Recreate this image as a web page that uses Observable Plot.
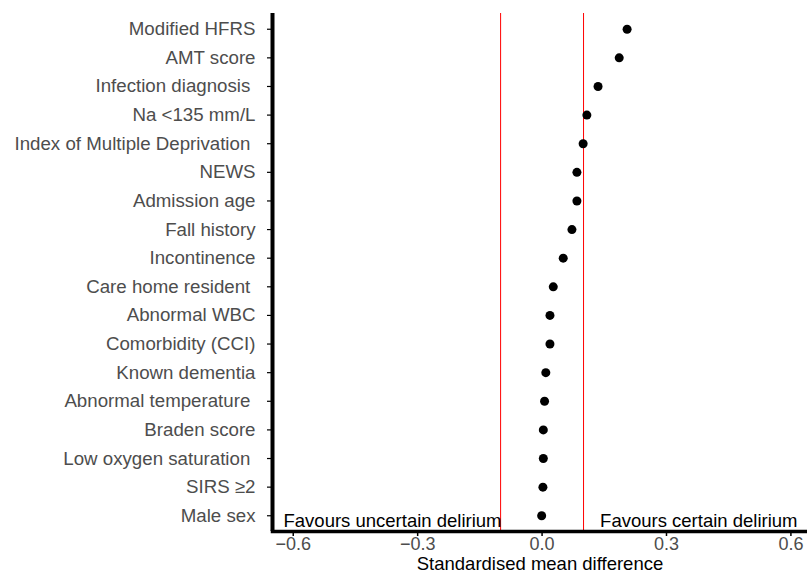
<!DOCTYPE html>
<html><head><meta charset="utf-8">
<script src="https://cdn.jsdelivr.net/npm/d3@7"></script>
<script src="https://cdn.jsdelivr.net/npm/@observablehq/plot@0.6"></script>
<style>body{margin:0;background:#fff;font-family:"Liberation Sans",Arial,sans-serif;}</style>
</head><body><div id="chart"></div>
<script>
const categories = ["Modified HFRS","AMT score","Infection diagnosis","Na <135 mm/L","Index of Multiple Deprivation","NEWS","Admission age","Fall history","Incontinence","Care home resident","Abnormal WBC","Comorbidity (CCI)","Known dementia","Abnormal temperature","Braden score","Low oxygen saturation","SIRS ≥2","Male sex"];
const smd = [0.205,0.186,0.135,0.108,0.099,0.084,0.084,0.072,0.051,0.027,0.019,0.019,0.009,0.006,0.003,0.003,0.002,-0.001];
const trailing = ["Infection diagnosis","Index of Multiple Deprivation","Care home resident","Abnormal temperature","Low oxygen saturation"];
const xTicks = [-0.6,-0.3,0.0,0.3,0.6];
const thresholds = [-0.1, 0.1];
const xDomain = [-0.65, 0.64];
const leftNote = ["Favours uncertain delirium"];
const rightNote = ["Favours certain delirium"];
const data = categories.map((c,i)=>({cat:c, v:smd[i]}));
const lastCat = categories[categories.length-1];

const chart = Plot.plot({
  width: 807, height: 573,
  marginLeft: 272, marginRight: 0, marginTop: 13, marginBottom: 42,
  style: {fontFamily: '"Liberation Sans", Arial, sans-serif', fontSize: "18px", background: "#fff"},
  x: {domain: xDomain, ticks: xTicks, tickFormat: d3.format(".1f"), label: null},
  y: {domain: categories, type: "point", padding: 0.55, round: false, label: null},
  marks: [
    Plot.ruleX(thresholds, {stroke: "red", strokeWidth: 1}),
    Plot.dot(data, {x: "v", y: "cat", r: 4.5, fill: "black", stroke: null}),
    Plot.text(leftNote, {x: xDomain[0], y: () => lastCat, text: d => d, textAnchor: "start", dx: 11, dy: 5, fill: "black", fontSize: 18.5}),
    Plot.text(rightNote, {x: xDomain[1], y: () => lastCat, text: d => d, textAnchor: "end", dx: -10, dy: 5, fill: "black", fontSize: 18.5}),
    Plot.axisX({ticks: xTicks, tickFormat: d3.format(".1f"), tickSize: 5, tickPadding: 1, fill: "#4d4d4d", stroke: "black", strokeWidth: 1.5, fontSize: 18, label: null}),
    Plot.axisY({tickSize: 5, tickPadding: 12, fill: "#4d4d4d", stroke: "black", strokeWidth: 1.2, fontSize: 18.7, label: null,
      tickFormat: d => trailing.includes(d) ? d + "\u00a0" : d}),
    Plot.ruleX([xDomain[0]], {stroke: "black", strokeWidth: 4}),
    Plot.frame({anchor: "bottom", stroke: "black", strokeWidth: 3.5}),
    Plot.text(["Standardised mean difference"], {frameAnchor: "bottom", text: d => d, dy: 38.5, fill: "black", fontSize: 18.5})
  ]
});
document.getElementById("chart").appendChild(chart);
</script></body></html>
